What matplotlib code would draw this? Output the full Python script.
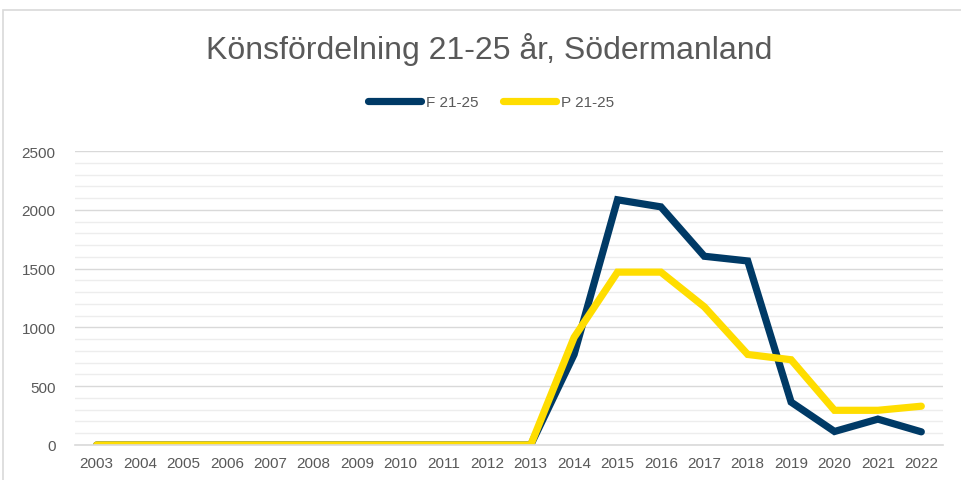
import matplotlib
matplotlib.use("Agg")
import matplotlib.pyplot as plt
from matplotlib.patches import Rectangle
from matplotlib.ticker import MultipleLocator

plt.rcParams['font.family'] = ['Liberation Sans', 'DejaVu Sans']

years = [str(y) for y in range(2003, 2023)]
f_values = [0, 0, 0, 0, 0, 0, 0, 0, 0, 0, 0, 770, 2085, 2025, 1605, 1565, 365, 115, 220, 112]
p_values = [0, 0, 0, 0, 0, 0, 0, 0, 0, 0, 0, 915, 1470, 1470, 1175, 770, 725, 295, 295, 330]
series_names = ['F 21-25', 'P 21-25']
colors = ['#003A66', '#FFDD00']

fig = plt.figure(figsize=(9.61, 4.81), dpi=100)
fig.patches.append(Rectangle((3/961, -0.1), 1.2, 1 - 11/481 + 0.1, transform=fig.transFigure,
                             fill=False, edgecolor='#D9D9D9', linewidth=1.2))
ax = fig.add_axes([75/961, (481-446)/481, (943-75)/961, (446-152)/481])

x = list(range(len(years)))
ax.plot(x, f_values, color=colors[0], linewidth=5.2, label=series_names[0], solid_joinstyle='miter', solid_capstyle='round')
ax.plot(x, p_values, color=colors[1], linewidth=5.2, label=series_names[1], solid_joinstyle='miter', solid_capstyle='round')

ax.set_xlim(-0.5, len(years) - 0.5)
ax.set_ylim(0, 2500)
ax.yaxis.set_major_locator(MultipleLocator(500))
ax.yaxis.set_minor_locator(MultipleLocator(100))
ax.grid(which='major', axis='y', color='#D9D9D9', linewidth=1)
ax.grid(which='minor', axis='y', color='#EDEDED', linewidth=1)
ax.set_axisbelow(True)
ax.set_xticks(x)
ax.set_xticklabels(years)
ax.tick_params(axis='both', which='both', length=0, labelsize=11, labelcolor='#595959')
ax.tick_params(axis='x', pad=8)
ax.tick_params(axis='y', pad=14)
for s in ['top', 'right', 'left']:
    ax.spines[s].set_visible(False)
ax.spines['bottom'].set_color('#D9D9D9')
ax.spines['bottom'].set_linewidth(1.2)

fig.text(489/961, 1 - 50/481, 'Könsfördelning 21-25 år, Södermanland', ha='center', va='center',
         fontsize=23, color='#595959')
fig.legend(loc='center', bbox_to_anchor=(491/961, 1 - 103/481), ncol=2, frameon=False,
           fontsize=11, labelcolor='#595959', handlelength=3.5, handletextpad=0.3, columnspacing=1.6)

fig.savefig('out.png', dpi=100)
